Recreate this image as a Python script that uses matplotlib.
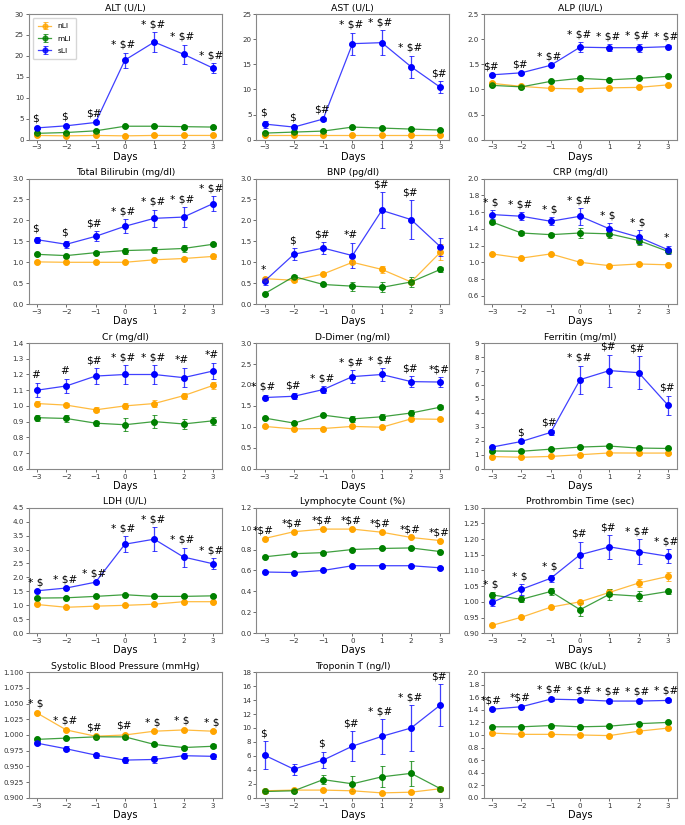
import matplotlib
matplotlib.use('Agg')
import matplotlib.pyplot as plt

days = [-3, -2, -1, 0, 1, 2, 3]
groups = ['nLI', 'mLI', 'sLI']
colors = ['orange', 'green', 'blue']

# ALT
alt_n = [1.0, 0.9, 1.0, 0.9, 1.0, 1.0, 1.0]
alt_m = [1.5, 1.7, 2.1, 3.2, 3.2, 3.1, 3.0]
alt_s = [2.8, 3.3, 4.1, 19.0, 23.3, 20.4, 17.1]
alt_n_err = [0.1, 0.1, 0.1, 0.1, 0.1, 0.1, 0.1]
alt_m_err = [0.2, 0.2, 0.2, 0.3, 0.3, 0.3, 0.3]
alt_s_err = [0.3, 0.3, 0.3, 1.8, 2.4, 2.3, 1.2]
alt_marks = ['$', '$', '$#', '* $#', '* $#', '* $#', '* $#']

# AST
ast_n = [1.0, 1.0, 1.0, 1.0, 1.0, 1.0, 1.0]
ast_m = [1.3, 1.5, 1.7, 2.5, 2.3, 2.1, 1.9]
ast_s = [3.1, 2.5, 4.1, 19.1, 19.3, 14.5, 10.4]
ast_n_err = [0.1, 0.1, 0.1, 0.1, 0.1, 0.1, 0.1]
ast_m_err = [0.2, 0.2, 0.2, 0.2, 0.2, 0.2, 0.2]
ast_s_err = [0.7, 0.3, 0.3, 2.2, 2.5, 2.2, 1.2]
ast_marks = ['$', '$', '$#', '* $#', '* $#', '* $#', '$#']

# ALP
alp_n = [1.12, 1.06, 1.02, 1.01, 1.03, 1.04, 1.09]
alp_m = [1.08, 1.05, 1.16, 1.22, 1.19, 1.22, 1.26]
alp_s = [1.29, 1.33, 1.48, 1.84, 1.83, 1.83, 1.85]
alp_n_err = [0.02, 0.01, 0.01, 0.01, 0.01, 0.01, 0.02]
alp_m_err = [0.02, 0.02, 0.02, 0.03, 0.02, 0.02, 0.02]
alp_s_err = [0.02, 0.02, 0.02, 0.10, 0.07, 0.08, 0.04]
alp_marks = ['$#', '$#', '* $#', '* $#', '* $#', '* $#', '* $#']

# Total Bilirubin
tbil_n = [1.01, 1.00, 1.00, 1.00, 1.06, 1.09, 1.14]
tbil_m = [1.19, 1.16, 1.23, 1.28, 1.30, 1.33, 1.43]
tbil_s = [1.54, 1.43, 1.62, 1.86, 2.05, 2.08, 2.40]
tbil_n_err = [0.02, 0.02, 0.02, 0.02, 0.03, 0.04, 0.05]
tbil_m_err = [0.03, 0.02, 0.03, 0.07, 0.07, 0.08, 0.03]
tbil_s_err = [0.07, 0.09, 0.12, 0.17, 0.21, 0.24, 0.18]
tbil_marks = ['$', '$', '$#', '* $#', '* $#', '* $#', '* $#']

# BNP
bnp_n = [0.61, 0.57, 0.72, 1.00, 0.83, 0.53, 1.24]
bnp_m = [0.25, 0.66, 0.47, 0.43, 0.40, 0.53, 0.83]
bnp_s = [0.55, 1.19, 1.34, 1.16, 2.24, 2.02, 1.37]
bnp_n_err = [0.03, 0.03, 0.03, 0.04, 0.09, 0.04, 0.19]
bnp_m_err = [0.02, 0.04, 0.03, 0.11, 0.12, 0.12, 0.05]
bnp_s_err = [0.09, 0.14, 0.14, 0.30, 0.43, 0.47, 0.22]
bnp_marks = ['*', '$', '$#', '*#', '$#', '$#', '']

# CRP
crp_n = [1.10, 1.05, 1.10, 1.00, 0.96, 0.98, 0.97]
crp_m = [1.48, 1.35, 1.33, 1.35, 1.34, 1.26, 1.13]
crp_s = [1.57, 1.55, 1.49, 1.55, 1.40, 1.30, 1.15]
crp_n_err = [0.01, 0.01, 0.01, 0.01, 0.01, 0.01, 0.01]
crp_m_err = [0.02, 0.02, 0.02, 0.06, 0.05, 0.05, 0.02]
crp_s_err = [0.05, 0.05, 0.05, 0.10, 0.07, 0.08, 0.05]
crp_marks = ['* $', '* $#', '* $', '* $#', '* $', '* $', '*']

# Cr
cr_n = [1.015, 1.005, 0.975, 1.00, 1.015, 1.065, 1.13]
cr_m = [0.925, 0.92, 0.89, 0.88, 0.90, 0.885, 0.905]
cr_s = [1.10, 1.127, 1.19, 1.20, 1.20, 1.18, 1.222]
cr_n_err = [0.015, 0.015, 0.015, 0.02, 0.02, 0.02, 0.02]
cr_m_err = [0.02, 0.02, 0.015, 0.04, 0.04, 0.03, 0.025]
cr_s_err = [0.045, 0.047, 0.05, 0.06, 0.06, 0.06, 0.05]
cr_marks = ['#', '#', '$#', '* $#', '* $#', '*#', '*#']

# D-Dimer
dd_n = [1.01, 0.95, 0.96, 1.01, 0.99, 1.19, 1.18]
dd_m = [1.21, 1.09, 1.28, 1.19, 1.24, 1.33, 1.47]
dd_s = [1.70, 1.73, 1.89, 2.20, 2.25, 2.08, 2.07]
dd_n_err = [0.02, 0.02, 0.02, 0.02, 0.02, 0.03, 0.03]
dd_m_err = [0.03, 0.03, 0.03, 0.07, 0.07, 0.08, 0.04]
dd_s_err = [0.07, 0.07, 0.08, 0.16, 0.15, 0.13, 0.12]
dd_marks = ['* $#', '$#', '* $#', '* $#', '* $#', '$#', '*$#']

# Ferritin
fer_n = [0.87, 0.82, 0.88, 1.00, 1.13, 1.12, 1.12]
fer_m = [1.27, 1.25, 1.40, 1.55, 1.62, 1.48, 1.45]
fer_s = [1.55, 1.95, 2.60, 6.38, 7.03, 6.88, 4.55]
fer_n_err = [0.03, 0.03, 0.03, 0.04, 0.05, 0.05, 0.05]
fer_m_err = [0.05, 0.05, 0.05, 0.10, 0.15, 0.08, 0.05]
fer_s_err = [0.10, 0.10, 0.15, 1.00, 1.15, 1.20, 0.68]
fer_marks = ['', '$', '$#', '* $#', '$#', '$#', '$#']

# LDH
ldh_n = [1.03, 0.93, 0.97, 1.00, 1.04, 1.13, 1.13]
ldh_m = [1.26, 1.27, 1.32, 1.38, 1.32, 1.32, 1.34]
ldh_s = [1.52, 1.62, 1.83, 3.19, 3.37, 2.73, 2.49]
ldh_n_err = [0.02, 0.02, 0.02, 0.02, 0.02, 0.03, 0.03]
ldh_m_err = [0.02, 0.02, 0.02, 0.03, 0.03, 0.03, 0.03]
ldh_s_err = [0.03, 0.03, 0.04, 0.29, 0.43, 0.34, 0.20]
ldh_marks = ['* $', '* $#', '* $#', '* $#', '* $#', '* $#', '* $#']

# Lymphocyte Count
lym_n = [0.905, 0.97, 0.995, 0.995, 0.965, 0.915, 0.885]
lym_m = [0.73, 0.76, 0.77, 0.80, 0.81, 0.815, 0.78]
lym_s = [0.585, 0.58, 0.60, 0.645, 0.645, 0.645, 0.625]
lym_n_err = [0.005, 0.005, 0.005, 0.005, 0.005, 0.005, 0.005]
lym_m_err = [0.005, 0.005, 0.005, 0.008, 0.008, 0.008, 0.005]
lym_s_err = [0.008, 0.008, 0.008, 0.01, 0.01, 0.01, 0.008]
lym_marks = ['*$#', '*$#', '*$#', '*$#', '*$#', '*$#', '*$#']

# Prothrombin Time
pt_n = [0.925, 0.951, 0.983, 1.000, 1.030, 1.060, 1.081]
pt_m = [1.022, 1.008, 1.033, 0.975, 1.024, 1.018, 1.033]
pt_s = [0.998, 1.040, 1.075, 1.150, 1.175, 1.160, 1.145]
pt_n_err = [0.004, 0.004, 0.004, 0.006, 0.010, 0.012, 0.015]
pt_m_err = [0.010, 0.010, 0.010, 0.020, 0.018, 0.015, 0.007]
pt_s_err = [0.010, 0.017, 0.012, 0.042, 0.038, 0.040, 0.022]
pt_marks = ['* $', '* $', '* $', '$#', '$#', '* $#', '* $#']

# Systolic Blood Pressure
sbp_n = [1.035, 1.008, 0.998, 1.000, 1.006, 1.008, 1.006]
sbp_m = [0.993, 0.995, 0.997, 0.997, 0.985, 0.980, 0.982]
sbp_s = [0.987, 0.978, 0.968, 0.960, 0.961, 0.967, 0.966]
sbp_n_err = [0.002, 0.002, 0.002, 0.002, 0.002, 0.002, 0.002]
sbp_m_err = [0.002, 0.002, 0.002, 0.004, 0.003, 0.003, 0.003]
sbp_s_err = [0.003, 0.004, 0.004, 0.005, 0.005, 0.004, 0.004]
sbp_marks = ['* $', '* $#', '$#', '$#', '* $', '* $', '* $']

# Troponin T
trop_n = [1.0, 1.1, 1.1, 1.0, 0.7, 0.8, 1.3]
trop_m = [0.9, 1.0, 2.6, 2.0, 3.0, 3.5, 1.3]
trop_s = [6.1, 4.1, 5.4, 7.4, 8.8, 10.0, 13.3]
trop_n_err = [0.1, 0.1, 0.1, 0.1, 0.1, 0.1, 0.2]
trop_m_err = [0.2, 0.2, 0.6, 1.1, 1.5, 1.8, 0.2]
trop_s_err = [2.0, 0.8, 1.2, 2.2, 2.5, 3.3, 3.0]
trop_marks = ['$', '', '$', '$#', '* $#', '* $#', '$#']

# WBC
wbc_n = [1.03, 1.01, 1.01, 1.00, 0.99, 1.06, 1.11]
wbc_m = [1.13, 1.13, 1.15, 1.13, 1.14, 1.18, 1.20]
wbc_s = [1.41, 1.45, 1.57, 1.56, 1.54, 1.54, 1.55]
wbc_n_err = [0.01, 0.01, 0.01, 0.01, 0.01, 0.01, 0.01]
wbc_m_err = [0.01, 0.01, 0.01, 0.01, 0.01, 0.01, 0.01]
wbc_s_err = [0.02, 0.02, 0.03, 0.03, 0.03, 0.03, 0.03]
wbc_marks = ['*$#', '*$#', '* $#', '* $#', '* $#', '* $#', '* $#']

# title, series..., marks, ylim, first tick, tick step
panels = [
    ('ALT (U/L)', alt_n, alt_m, alt_s, alt_n_err, alt_m_err, alt_s_err, alt_marks, (0, 30), 0, 5),
    ('AST (U/L)', ast_n, ast_m, ast_s, ast_n_err, ast_m_err, ast_s_err, ast_marks, (0, 25), 0, 5),
    ('ALP (IU/L)', alp_n, alp_m, alp_s, alp_n_err, alp_m_err, alp_s_err, alp_marks, (0, 2.5), 0, 0.5),
    ('Total Bilirubin (mg/dl)', tbil_n, tbil_m, tbil_s, tbil_n_err, tbil_m_err, tbil_s_err, tbil_marks, (0, 3.0), 0, 0.5),
    ('BNP (pg/dl)', bnp_n, bnp_m, bnp_s, bnp_n_err, bnp_m_err, bnp_s_err, bnp_marks, (0, 3.0), 0, 0.5),
    ('CRP (mg/dl)', crp_n, crp_m, crp_s, crp_n_err, crp_m_err, crp_s_err, crp_marks, (0.5, 2.0), 0.6, 0.2),
    ('Cr (mg/dl)', cr_n, cr_m, cr_s, cr_n_err, cr_m_err, cr_s_err, cr_marks, (0.6, 1.4), 0.6, 0.1),
    ('D-Dimer (ng/ml)', dd_n, dd_m, dd_s, dd_n_err, dd_m_err, dd_s_err, dd_marks, (0, 3.0), 0, 0.5),
    ('Ferritin (mg/ml)', fer_n, fer_m, fer_s, fer_n_err, fer_m_err, fer_s_err, fer_marks, (0, 9), 0, 1),
    ('LDH (U/L)', ldh_n, ldh_m, ldh_s, ldh_n_err, ldh_m_err, ldh_s_err, ldh_marks, (0, 4.5), 0, 0.5),
    ('Lymphocyte Count (%)', lym_n, lym_m, lym_s, lym_n_err, lym_m_err, lym_s_err, lym_marks, (0, 1.2), 0, 0.2),
    ('Prothrombin Time (sec)', pt_n, pt_m, pt_s, pt_n_err, pt_m_err, pt_s_err, pt_marks, (0.9, 1.3), 0.9, 0.05),
    ('Systolic Blood Pressure (mmHg)', sbp_n, sbp_m, sbp_s, sbp_n_err, sbp_m_err, sbp_s_err, sbp_marks, (0.9, 1.1), 0.9, 0.025),
    ('Troponin T (ng/l)', trop_n, trop_m, trop_s, trop_n_err, trop_m_err, trop_s_err, trop_marks, (0, 18), 0, 2),
    ('WBC (k/uL)', wbc_n, wbc_m, wbc_s, wbc_n_err, wbc_m_err, wbc_s_err, wbc_marks, (0, 2.0), 0, 0.2),
]

fig, axes = plt.subplots(5, 3, figsize=(6.85, 8.25), dpi=100)
plt.subplots_adjust(left=0.042, right=0.988, top=0.983, bottom=0.033, wspace=0.18, hspace=0.31)

for ax, p in zip(axes.flat, panels):
    title, n, m, s, ne, me, se, marks, ylim, t0, step = p
    series = [n, m, s]
    errs = [ne, me, se]
    for vals, err, c, g in zip(series, errs, colors, groups):
        ax.errorbar(days, vals, yerr=err, color=c, fmt='-o', markersize=3.8,
                    linewidth=0.9, elinewidth=0.9, capsize=1.8, capthick=0.7,
                    label=g, alpha=0.75)
        ax.plot(days, vals, 'o', color=c, markersize=3.8)
    for i, d in enumerate(days):
        if not marks[i]:
            continue
        top = max(v[i] + e[i] for v, e in zip(series, errs))
        ax.annotate(marks[i], (d, top), xytext=(-1, 2), textcoords='offset points',
                    ha='center', va='bottom', fontsize=7.6, parse_math=False)
    ax.set_title(title, fontsize=6.7, pad=2.5)
    ax.set_xlabel('Days', fontsize=7, labelpad=1)
    ax.set_ylim(ylim)
    ticks = []
    t = t0
    while t <= ylim[1] + 1e-9:
        ticks.append(round(t, 4))
        t += step
    ax.set_yticks(ticks)
    ax.set_xticks(days)
    ax.set_xlim(-3.28, 3.3)
    ax.tick_params(labelsize=5.1, length=2, width=0.5, pad=1.5, colors='#333333')
    for sp in ax.spines.values():
        sp.set_color('#888888')
        sp.set_linewidth(0.8)

axes[0, 0].legend(loc='upper left', fontsize=5.4, markerscale=0.9, handlelength=1.8,
                  borderpad=0.7, labelspacing=0.8)

plt.savefig('out.png')
plt.close()
